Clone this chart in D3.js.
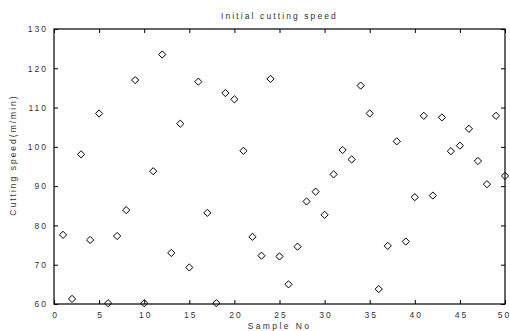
<!DOCTYPE html>
<html>
<head>
    <meta charset='utf-8'/>
    <title>Initial cutting speed</title>
    <style>
        body { margin: 0; background: #fff; }
        text { font-family: Arial, "Liberation Sans", sans-serif; fill: #333; }
        .tick text { font-size: 8.5px; letter-spacing: 2px; }
        .tick line { stroke: #000; }
        .domain { display: none; }
    </style>
</head>
<body>
<div id="chart"></div>

<script src="https://d3js.org/d3.v7.min.js"></script>
<script type="text/javascript">

    // data
    var sampleNo = d3.range(1, 51);
    var speed = [
        77.6, 61.3, 98.1, 76.3, 108.5, 60.2, 77.3, 83.9, 117.0, 60.2,
        93.8, 123.5, 73.0, 105.9, 69.3, 116.6, 83.2, 60.2, 113.7, 112.1,
        99.0, 77.1, 72.3, 117.3, 72.1, 65.0, 74.6, 86.1, 88.6, 82.7,
        93.0, 99.2, 96.8, 115.6, 108.5, 63.8, 74.8, 101.4, 75.9, 87.2,
        107.9, 87.6, 107.5, 98.9, 100.3, 104.6, 96.4, 90.5, 107.9, 92.6
    ];
    var xTicks = [0, 5, 10, 15, 20, 25, 30, 35, 40, 45, 50];
    var yTicks = [60, 70, 80, 90, 100, 110, 120, 130];

    // dims
    var svg_dx = 510,
        svg_dy = 331,
        margin = {top: 29, right: 5, bottom: 27, left: 54};

    var x = d3.scaleLinear().domain([0, 50]).range([margin.left, svg_dx - margin.right]),
        y = d3.scaleLinear().domain([60, 130]).range([svg_dy - margin.bottom, margin.top]);

    var svg = d3.select("#chart")
        .append("svg")
        .attr("width", svg_dx)
        .attr("height", svg_dy);

    // inward ticks on all four sides (matlab style)
    var xAxis = svg.append("g")
        .attr("transform", "translate(0," + y(60) + ")")
        .call(d3.axisBottom(x).tickValues(xTicks).tickSize(-4).tickPadding(8));
    xAxis.selectAll(".tick text").attr("dx", d => d == 50 ? "-1px" : "1px");

    svg.append("g")
        .attr("transform", "translate(0," + y(130) + ")")
        .call(d3.axisTop(x).tickValues(xTicks).tickSize(-4).tickFormat(""));

    svg.append("g")
        .attr("transform", "translate(" + x(0) + ",0)")
        .call(d3.axisLeft(y).tickValues(yTicks).tickSize(-4).tickPadding(6));

    svg.append("g")
        .attr("transform", "translate(" + x(50) + ",0)")
        .call(d3.axisRight(y).tickValues(yTicks).tickSize(-4).tickFormat(""));

    // frame
    svg.append("rect")
        .attr("x", x(0))
        .attr("y", y(130))
        .attr("width", x(50) - x(0))
        .attr("height", y(60) - y(130))
        .attr("fill", "none")
        .attr("stroke", "#000")
        .attr("stroke-width", 1.2);

    // points
    svg.append("g")
        .selectAll("path")
        .data(sampleNo)
        .enter()
        .append("path")
        .attr("d", "M0,-3.6L3.6,0L0,3.6L-3.6,0Z")
        .attr("transform", (d, i) => "translate(" + x(d) + "," + y(speed[i]) + ")")
        .attr("fill", "none")
        .attr("stroke", "#000")
        .attr("stroke-width", 1);

    // labels
    svg.append("text")
        .attr("x", (x(0) + x(50)) / 2)
        .attr("y", 19)
        .attr("text-anchor", "middle")
        .style("font-size", "8.5px")
        .style("letter-spacing", "2.1px")
        .text("Initial cutting speed");

    svg.append("text")
        .attr("x", (x(0) + x(50)) / 2)
        .attr("y", 329)
        .attr("text-anchor", "middle")
        .style("font-size", "8.5px")
        .style("letter-spacing", "2.4px")
        .text("Sample No");

    svg.append("text")
        .attr("transform", "translate(16,155) rotate(-90)")
        .attr("text-anchor", "middle")
        .style("font-size", "8.5px")
        .style("letter-spacing", "2px")
        .text("Cutting speed(m/min)");

</script>

</body>
</html>
